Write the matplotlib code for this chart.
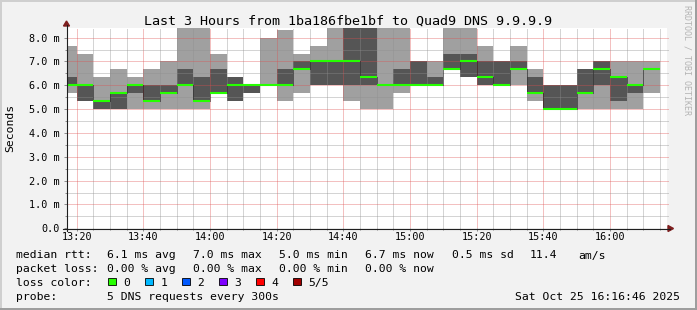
import matplotlib
matplotlib.use("Agg")
import matplotlib.pyplot as plt
from matplotlib.patches import Rectangle, Polygon
from matplotlib.lines import Line2D
from matplotlib.transforms import Affine2D
import numpy as np

W, H = 697, 310
MONO = "DejaVu Sans Mono"

# 5 sorted DNS pings per 5-minute step (ms), step start times
bin_start = ["13:15", "13:20", "13:25", "13:30", "13:35", "13:40", "13:45", "13:50",
             "13:55", "14:00", "14:05", "14:10", "14:15", "14:20", "14:25", "14:30",
             "14:35", "14:40", "14:45", "14:50", "14:55", "15:00", "15:05", "15:10",
             "15:15", "15:20", "15:25", "15:30", "15:35", "15:40", "15:45", "15:50",
             "15:55", "16:00", "16:05", "16:10"]
ping1 = [5.67, 5.33, 5.0, 5.0, 5.0, 5.0, 5.0, 5.0, 5.0, 5.67, 5.33, 5.67, 6.0, 5.33, 5.67, 6.0,
         6.0, 5.33, 5.0, 5.0, 5.67, 6.0, 6.0, 6.67, 6.33, 6.0, 6.0, 6.0, 5.33, 5.0, 5.0, 5.0,
         5.0, 5.0, 5.0, 5.67]
ping2 = [6.0, 5.33, 5.0, 5.0, 5.67, 5.33, 5.67, 6.0, 5.33, 5.67, 5.33, 5.67, 6.0, 6.0, 6.67, 6.0,
         6.0, 6.0, 6.0, 6.0, 6.0, 6.0, 6.0, 6.67, 6.33, 6.0, 6.0, 6.67, 5.67, 5.0, 5.0, 5.67,
         6.0, 5.33, 5.67, 6.67]
median = [6.0, 6.0, 5.33, 5.67, 6.0, 5.33, 5.67, 6.0, 5.33, 5.67, 6.0, 6.0, 6.0, 6.0, 6.67, 7.0,
          7.0, 7.0, 6.33, 6.0, 6.0, 6.0, 6.0, 6.67, 7.0, 6.33, 6.0, 6.67, 5.67, 5.0, 5.0, 5.67,
          6.67, 6.33, 6.0, 6.67]
ping4 = [6.33, 6.0, 5.33, 5.67, 6.0, 6.0, 6.0, 6.67, 6.33, 6.67, 6.33, 6.0, 6.0, 6.67, 7.0, 7.0,
         7.0, 8.67, 8.67, 6.0, 6.67, 7.0, 6.33, 7.33, 7.33, 7.0, 7.0, 7.0, 6.33, 6.0, 6.0, 6.67,
         7.0, 6.33, 6.0, 6.67]
ping5 = [7.67, 7.33, 6.33, 6.67, 6.33, 6.67, 7.0, 8.67, 8.67, 7.33, 6.33, 6.0, 8.0, 8.33, 7.33, 7.67,
         8.67, 8.67, 8.67, 8.67, 8.67, 7.0, 7.0, 8.67, 8.67, 7.67, 7.0, 7.67, 6.67, 6.0, 6.0, 6.67,
         7.0, 7.0, 7.0, 7.0]

time_ticks = ["13:20", "13:40", "14:00", "14:20", "14:40", "15:00", "15:20", "15:40", "16:00"]
y_ticks = [0, 1, 2, 3, 4, 5, 6, 7, 8]
y_labels = ["0.0", "1.0 m", "2.0 m", "3.0 m", "4.0 m", "5.0 m", "6.0 m", "7.0 m", "8.0 m"]

rtt_stats = ["6.1 ms avg", "7.0 ms max", "5.0 ms min", "6.7 ms now", "0.5 ms sd", "11.4", "am/s"]
loss_stats = ["0.00 % avg", "0.00 % max", "0.00 % min", "0.00 % now"]
loss_labels = ["0", "1", "2", "3", "4", "5/5"]
loss_colors = ["#26ff00", "#00b8ff", "#0059ff", "#7e00ff", "#ff0000", "#a10000"]


def minutes(s):
    h, m = s.split(":")
    return (int(h) - 13) * 60 + int(m)


starts = np.array([minutes(s) for s in bin_start], dtype=float)
p1, p2, p3, p4, p5 = (np.array(a) for a in (ping1, ping2, median, ping4, ping5))

fig = plt.figure(figsize=(W / 100, H / 100), dpi=100, facecolor="#f2f2f2")
px = Affine2D().scale(1 / W, -1 / H).translate(0, 1) + fig.transFigure

# plot area in pixels
X0, X1, YB = 66.7, 666.7, 228.3
YT = YB - 8.4 * 23.83
ax = fig.add_axes([X0 / W, 1 - YB / H, (X1 - X0) / W, (YB - YT) / H])
ax.set_facecolor("white")
ax.set_xlim(17, 197)
ax.set_ylim(0, 8.4)
for s in ax.spines.values():
    s.set_visible(False)

# smoke
ax.bar(starts, p5 - p1, bottom=p1, width=5, align="edge", color="#a0a0a0", lw=0, zorder=1)
ax.bar(starts, p4 - p2, bottom=p2, width=5, align="edge", color="#555555", lw=0, zorder=2)

# grid on top of smoke
minor_c = (0.56, 0.56, 0.56, 0.75)
major_c = (0.87, 0.31, 0.31, 0.7)
dots = (0, (1, 1))
for m in np.arange(20, 197, 5):
    c = major_c if m % 20 == 0 else minor_c
    ax.axvline(m, color=c, lw=0.72, ls=dots, zorder=3, snap=True)
for v in np.arange(0.5, 8.4, 0.5):
    c = major_c if v % 1 == 0 else minor_c
    ax.plot([17, 197.4], [v, v], color=c, lw=0.72, ls=dots, zorder=3, clip_on=False, snap=True)

# median
ax.vlines(starts[1:], p3[:-1], p3[1:], color="#111111", lw=0.72, ls=dots, zorder=4, snap=True)
ax.hlines(p3, starts, starts + 5, color=loss_colors[0], lw=1.5, zorder=5)

# ticks and labels
ax.set_yticks(y_ticks, y_labels)
ax.set_yticks(np.arange(0.5, 8.4, 1.0), minor=True)
ax.set_xticks([minutes(t) for t in time_ticks], time_ticks)
ax.set_xticks(np.arange(20, 197, 5), minor=True)
ax.tick_params(axis="both", which="both", direction="out", color="#8f8f8f", width=0.72)
ax.tick_params(axis="y", which="major", length=2.2, pad=2.6, labelsize=7.3)
ax.tick_params(axis="y", which="minor", length=1.5)
ax.tick_params(axis="x", which="major", length=2.2, pad=0.8, labelsize=7.3)
ax.tick_params(axis="x", which="minor", length=1.5)
for lab in ax.get_xticklabels() + ax.get_yticklabels():
    lab.set_family(MONO)

# axes lines and arrows
fig.add_artist(Line2D([66.5, 66.5], [231, 25], color="#1f1f1f", lw=0.8, transform=px))
fig.add_artist(Line2D([62.5, 670], [228.5, 228.5], color="#1f1f1f", lw=0.8, transform=px))
fig.add_artist(Polygon([(63.5, 26), (69.5, 26), (66.5, 21)], color="#7f1f1f", transform=px))
fig.add_artist(Polygon([(668, 225.5), (668, 231.5), (673.5, 228.5)], color="#7f1f1f", transform=px))

# frame shading
fig.add_artist(Rectangle((0, 0), W, 2, color="#cfcfcf", transform=px, lw=0))
fig.add_artist(Rectangle((0, 0), 2, H, color="#cfcfcf", transform=px, lw=0))
fig.add_artist(Rectangle((0, H - 2), W, 2, color="#9e9e9e", transform=px, lw=0))
fig.add_artist(Rectangle((W - 2, 0), 2, H, color="#9e9e9e", transform=px, lw=0))

# texts
fig.text(348, 24.5, "Last 3 Hours from 1ba186fbe1bf to Quad9 DNS 9.9.9.9", transform=px,
         ha="center", va="baseline", family=MONO, fontsize=9.6)
fig.text(10.7, 127.5, "Seconds", transform=px, rotation=90, ha="center", va="center",
         family=MONO, fontsize=8.2)
fig.text(687.5, 5, "RRDTOOL / TOBI OETIKER", transform=px, rotation=270, ha="center", va="top",
         family=MONO, fontsize=6, color="#b4b4b4")

leg = dict(transform=px, ha="left", va="baseline", family=MONO, fontsize=8.2)
col_x = [107.3, 192.7, 279.3, 365, 451.7, 530, 578]
fig.text(16, 258.5, "median rtt:", **leg)
for t, x in zip(rtt_stats, col_x):
    fig.text(x, 258.5, t, **leg)
fig.text(16, 272.3, "packet loss:", **leg)
for t, x in zip(loss_stats, col_x):
    fig.text(x, 272.3, t, **leg)
fig.text(16, 286, "loss color:", **leg)
for i, (lab, c) in enumerate(zip(loss_labels, loss_colors)):
    sx = 108.3 + i * 37
    fig.add_artist(Rectangle((sx, 277.5), 7.5, 7.5, facecolor=c, edgecolor="black", lw=0.6,
                             transform=px))
    fig.text(sx + 15, 286, lab, **leg)
fig.text(16, 300, "probe:", **leg)
fig.text(107.3, 300, "5 DNS requests every 300s", **leg)
fig.text(680, 300, "Sat Oct 25 16:16:46 2025", **{**leg, "ha": "right"})

fig.savefig("out.png", dpi=100, facecolor=fig.get_facecolor())
